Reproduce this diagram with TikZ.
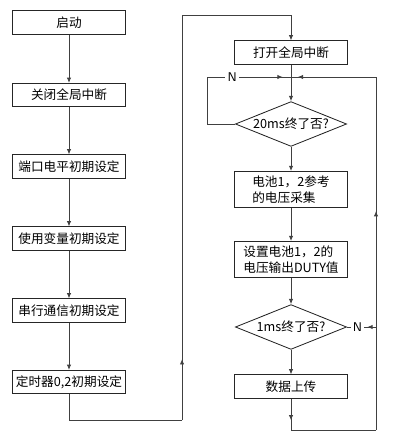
\documentclass[tikz,border=0pt]{standalone}
\usepackage{fontspec}
\newfontfamily\cjk{Noto Sans CJK SC}
\usetikzlibrary{arrows.meta,shapes.geometric,decorations.markings}

\begin{document}
\begin{tikzpicture}[
  x=0.025cm, y=-0.025cm,
  box/.style={draw=black!85, line width=0.7pt, minimum width=2.8cm, minimum height=0.58cm, inner sep=1pt, font=\cjk\fontsize{9}{11}\selectfont},
  tallbox/.style={box, minimum height=0.9cm, align=left},
  dec/.style={draw=black!85, line width=0.6pt, diamond, aspect=2.45, inner sep=0pt, minimum width=2.78cm, minimum height=1.12cm, font=\cjk\fontsize{9}{11}\selectfont},
  flow/.style={draw=black!75, line width=0.6pt},
  tipat/.style={postaction={decorate}, decoration={markings, mark=at position #1 with {\arrow{>}}}},
  lbl/.style={font=\sffamily\fontsize{9}{11}\selectfont, fill=white, inner sep=1.5pt},
  >={Latex[length=1.3mm,width=1.1mm]}
]
\useasboundingbox (0,0) rectangle (400,445);

% left column: initialisation
\node[box] (start) at (69,22.5) {启动};
\node[box] (intoff) at (69,95) {关闭全局中断};
\node[box] (port) at (69,166.5) {端口电平初期设定};
\node[box] (vars) at (69,238.5) {使用变量初期设定};
\node[box] (serial) at (69,310.5) {串行通信初期设定};
\node[box] (timer) at (69,382) {定时器0,2初期设定};
\draw[flow,->] (start) -- (intoff);
\draw[flow,->] (intoff) -- (port);
\draw[flow,->] (port) -- (vars);
\draw[flow,->] (vars) -- (serial);
\draw[flow,->] (serial) -- (timer);

% right column: main loop
\node[box] (inton) at (291,52.5) {打开全局中断};
\node[dec] (wait20) at (291,124) {20ms终了否?};
\node[tallbox] (sample) at (291,189.5) {电池1，2参考\\的电压采集};
\node[tallbox] (duty) at (291,259.5) {设置电池1，2的\\电压输出DUTY值};
\node[dec] (wait1) at (291,327) {1ms终了否?};
\node[box] (upload) at (291,386.5) {数据上传};

% crossing from left column to right column
\coordinate (c1) at (69,420);
\coordinate (c2) at (182,420);
\coordinate (c3) at (182,15);
\coordinate (c4) at (291,15);
\draw[flow] (timer) -- (c1) -- (c2);
\draw[flow,tipat=0.15] (c2) -- (c3);
\draw[flow,->] (c3) -- (c4) -- (inton);

% 20ms wait loop
\coordinate (join) at (291,77);
\coordinate (nl) at (207,77);
\draw[flow] (inton) -- (join);
\draw[flow,->] (join) -- (wait20);
\draw[flow] (wait20.west) -| (nl);
\draw[flow,tipat=0.9] (nl) -- node[lbl,pos=0.3] {N} (join);

\draw[flow,->] (wait20) -- (sample);
\draw[flow,->] (sample) -- (duty);
\draw[flow,->] (duty) -- (wait1);
\draw[flow,->] (wait1) -- (upload);

% 1ms branch
\coordinate (nr) at (376,327);
\draw[flow,tipat=0.3] (nr) -- node[lbl,pos=0.64] {N} (wait1.east);

% back to the 20ms check
\coordinate (bl) at (291,430);
\coordinate (br) at (376,430);
\coordinate (tr) at (376,77);
\draw[flow,tipat=0.69] (upload) -- (bl);
\draw[flow] (bl) -- (br);
\draw[flow,tipat=0.62] (br) -- (tr);
\draw[flow,tipat=0.92] (tr) -- (join);
\end{tikzpicture}
\end{document}
